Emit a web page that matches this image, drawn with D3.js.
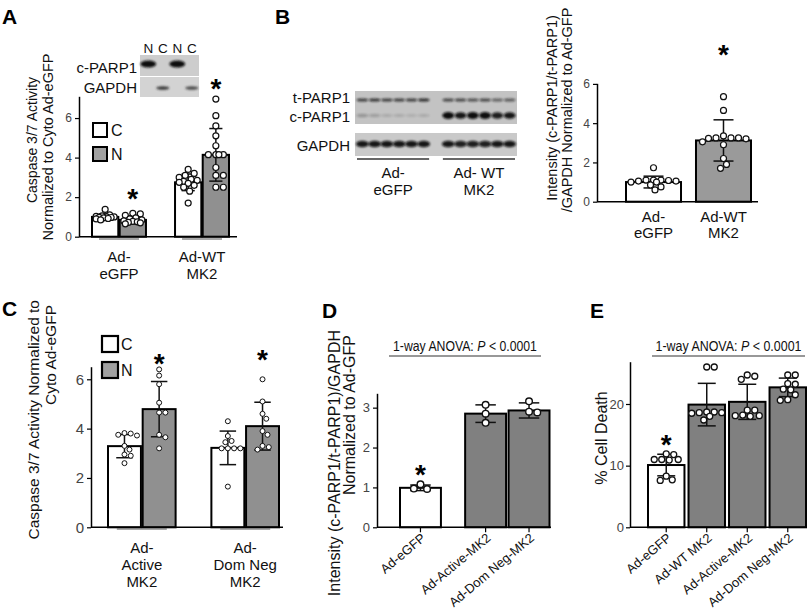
<!DOCTYPE html>
<html><head><meta charset="utf-8">
<script src="https://cdn.jsdelivr.net/npm/d3@7"></script>
<style>body{margin:0;background:#fff}svg{display:block}</style>
</head><body><svg id="fig" width="812" height="615"></svg>
<script>
// ================= DATA =================
// Panel A – caspase 3/7, cytosolic (C) vs nuclear (N)
const groupsA = ["Ad-eGFP", "Ad-WT MK2"];
const groupLabelsA = [["Ad-", "eGFP"], ["Ad-WT", "MK2"]];
const fractions = ["C", "N"];
const meansA_C = [1.0, 2.75];
const meansA_N = [0.85, 4.14];
const sdA_C = [0.15, 0.42];
const sdA_N = [0.2, 1.33];
const ptsA_eGFP_C = [1.38, 1.1, 1.05, 1.03, 1.0, 1.0, 0.98, 0.97, 0.95, 0.92, 0.9, 0.85];
const ptsA_eGFP_N = [1.18, 1.15, 1.08, 0.95, 0.9, 0.85, 0.8, 0.78, 0.75, 0.72, 0.7, 0.65];
const ptsA_WT_C = [3.4, 3.2, 3.1, 3.0, 2.9, 2.85, 2.8, 2.75, 2.7, 2.6, 2.5, 2.3, 1.7];
const ptsA_WT_N = [6.96, 6.12, 5.6, 5.1, 4.6, 4.15, 4.15, 4.15, 4.15, 3.5, 3.1, 3.1, 2.5, 2.5];
const ticksA = [0, 2, 4, 6];
const starsA = [["Ad-eGFP", "N", 2.25], ["Ad-WT MK2", "N", 7.82]];
const insetLanesA = ["N", "C", "N ", "C "];
const insetCParpA = [1, 0, 1, 0];
const insetGapdhA = [0, 0.85, 0, 0.75];

// Panel B – western blot + quantification
const lanesB = ["e1", "e2", "e3", "e4", "e5", "e6", "gap", "w1", "w2", "w3", "w4", "w5", "w6"];
const tParpB = [0.75, 0.8, 0.75, 0.75, 0.75, 0.85, 0, 0.7, 0.7, 0.65, 0.7, 0.55, 0.6];
const cParpB = [0.25, 0.2, 0.15, 0.15, 0.12, 0.15, 0, 1, 0.95, 1, 1, 0.9, 0.95];
const gapdhB = [0.95, 0.95, 0.95, 0.95, 0.95, 0.95, 0, 0.95, 0.9, 0.9, 0.9, 0.95, 0.95];
const blotGroupsB = [["Ad-", "eGFP"], ["Ad- WT", "MK2"]];
const categoriesB = ["Ad-eGFP", "Ad-WT MK2"];
const groupLabelsB = [["Ad-", "eGFP"], ["Ad-WT", "MK2"]];
const meansB = [1.0, 3.12];
const sdB = [0.3, 1.05];
const ptsB = [
  [1.73, 1.1, 1.1, 1.1, 1.08, 1.05, 1.05, 1.0, 1.0, 0.85, 0.75, 0.6],
  [5.35, 4.65, 3.35, 3.25, 3.25, 3.25, 3.22, 3.2, 3.05, 2.9, 2.2, 1.9, 1.7]
];
const ticksB = [0, 2, 4, 6];
const starsB = [["Ad-WT MK2", 7.83]];

// Panel C – caspase 3/7 fractions, active / dominant-negative MK2
const groupsC = ["Ad-Active MK2", "Ad-Dom Neg MK2"];
const groupLabelsC = [["Ad-", "Active", "MK2"], ["Ad-", "Dom Neg", "MK2"]];
const meansC_C = [3.29, 3.22];
const meansC_N = [4.79, 4.1];
const sdC_C = [0.47, 0.68];
const sdC_N = [1.12, 0.97];
const ptsC_Active_C = [3.82, 3.8, 3.75, 3.72, 3.3, 3.15, 2.95, 2.9, 2.6];
const ptsC_Active_N = [6.4, 6.15, 5.8, 5.05, 4.65, 4.65, 3.75, 3.65, 3.2];
const ptsC_DomNeg_C = [4.3, 3.7, 3.5, 3.45, 3.2, 3.2, 3.2, 3.2, 1.65];
const ptsC_DomNeg_N = [6.0, 5.1, 4.6, 4.4, 3.9, 3.75, 3.3, 3.25, 3.15];
const ticksC = [0, 2, 4, 6];
const starsC = [["Ad-Active MK2", "N", 6.9], ["Ad-Dom Neg MK2", "N", 7.07]];

// Panel D – cleaved PARP1
const categoriesD = ["Ad-eGFP", "Ad-Active-MK2", "Ad-Dom Neg-MK2"];
const meansD = [0.99, 2.85, 2.93];
const sdD = [0.07, 0.22, 0.19];
const ptsD = [[1.08, 0.96, 0.97], [3.07, 2.85, 2.62], [3.16, 2.9, 2.88]];
const ticksD = [0, 1, 2, 3];
const starsD = [["Ad-eGFP", 1.49]];

// Panel E – % cell death
const categoriesE = ["Ad-eGFP", "Ad-WT MK2", "Ad-Active-MK2", "Ad-Dom Neg-MK2"];
const meansE = [10.1, 19.9, 20.35, 22.7];
const sdE = [1.75, 3.45, 2.85, 1.5];
const ptsE = [
  [11.9, 11.8, 11.0, 11.0, 11.0, 10.9, 8.3, 7.7, 7.6],
  [26.0, 26.0, 18.7, 18.7, 18.6, 18.6, 18.5, 18.0, 17.4],
  [24.7, 24.5, 24.0, 19.0, 19.0, 18.2, 18.1, 18.1, 18.0],
  [24.7, 24.7, 23.3, 23.2, 22.4, 22.3, 21.5, 20.7, 20.6]
];
const ticksE = [0, 10, 20];
const starsE = [["Ad-eGFP", 14.5]];
const anovaText = ["1-way ANOVA:", "P", "< 0.0001"];

// ================= DRAWING =================
const FONT = '"Liberation Sans", Arial, Helvetica, sans-serif';
const svg = d3.select("#fig");
svg.append("rect").attr("width", 812).attr("height", 615).attr("fill", "#fff");
const defs = svg.append("defs");
defs.append("filter").attr("id", "blur").attr("x", "-50%").attr("y", "-50%").attr("width", "200%").attr("height", "200%")
  .append("feGaussianBlur").attr("stdDeviation", 0.8);

function txt(layer, x, y, s, o = {}) {
  const t = layer.append("text").attr("x", x).attr("y", y)
    .attr("font-family", o.family || FONT).attr("font-size", o.size || 15)
    .attr("fill", o.fill || "#111").attr("text-anchor", o.anchor || "middle").text(s);
  if (o.weight) t.attr("font-weight", o.weight);
  if (o.italic) t.attr("font-style", "italic");
  if (o.rotate != null) t.attr("transform", `rotate(${o.rotate},${x},${y})`);
  return t;
}

function styleAxis(g, o = {}) {
  g.select(".domain").attr("stroke", "#000").attr("stroke-width", 1.5);
  g.selectAll(".tick line").attr("stroke", "#000").attr("stroke-width", 1.2);
  g.selectAll(".tick text").attr("fill", "#444").attr("font-size", o.size || 12).attr("font-family", FONT);
}

function yAxis(layer, y, x, ticks, o = {}) {
  const g = layer.append("g").attr("transform", `translate(${x},0)`)
    .call(d3.axisLeft(y).tickValues(ticks).tickSize(4).tickSizeOuter(0).tickPadding(o.pad || 3).tickFormat(d3.format("d")));
  styleAxis(g, o);
  return g;
}

function xLine(layer, x1, x2, y) {
  layer.append("line").attr("x1", x1).attr("x2", x2).attr("y1", y).attr("y2", y)
    .attr("stroke", "#000").attr("stroke-width", 1.5);
}

// deterministic beeswarm placement in pixel space
function swarm(values, cx, y, r, halfW) {
  const placed = [];
  const step = r * 0.5;
  const maxK = Math.max(0, Math.floor(halfW / step)) * 2;
  values.forEach(v => {
    const py = y(v);
    let found = null, bestX = cx, bestScore = -1;
    for (let k = 0; k <= maxK; k++) {
      const off = (k % 2 === 1 ? 1 : -1) * Math.ceil(k / 2) * step;
      const x = cx + off;
      let minD = Infinity;
      placed.forEach(p => { const d = Math.hypot(p.x - x, p.y - py); if (d < minD) minD = d; });
      if (minD >= 2 * r + 0.6) { found = x; break; }
      if (minD > bestScore) { bestScore = minD; bestX = x; }
    }
    placed.push({ x: found != null ? found : bestX, y: py, v });
  });
  return placed;
}

function drawBar(layer, d, x, w, y, o) {
  const cx = x + w / 2;
  layer.append("rect").attr("x", x).attr("y", y(d.mean)).attr("width", w)
    .attr("height", y(0) - y(d.mean)).attr("fill", d.fill)
    .attr("stroke", "#000").attr("stroke-width", o.sw || 2);
  const cap = Math.min(o.cap || 18, w * 0.5);
  const top = y(d.mean + d.sd), bot = y(d.mean - d.sd);
  const eg = layer.append("g").attr("stroke", "#111").attr("stroke-width", 1.5);
  eg.append("line").attr("x1", cx).attr("x2", cx).attr("y1", top).attr("y2", bot);
  [top, bot].forEach(yy => eg.append("line").attr("x1", cx - cap / 2).attr("x2", cx + cap / 2).attr("y1", yy).attr("y2", yy));
  const r = o.r || 3;
  swarm(d.pts, cx, y, r, w / 2 - r).forEach(p => {
    layer.append("circle").attr("cx", p.x).attr("cy", p.y).attr("r", r)
      .attr("fill", "#fff").attr("stroke", "#111").attr("stroke-width", o.pw || 1.2);
  });
}

function star(layer, cx, cy, size = 28) {
  txt(layer, cx, cy + size * 0.58, "*", { size, weight: "bold", fill: "#000" });
}

function panelLetter(x, y, s) { txt(svg, x, y, s, { size: 21, weight: "bold", anchor: "start", fill: "#000" }); }

const GRAY_A = "#909090", GRAY_D = "#808080", GRAY_B = "#9a9a9a";

// ---------- Panel A ----------
{
  const L = svg.append("g");
  panelLetter(2, 24, "A");
  const y = d3.scaleLinear().domain([0, 7.1]).range([236.7, 96.3]);
  const x0 = d3.scaleBand().domain(groupsA).range([92, 229]).paddingInner(0.35);
  const x1 = d3.scaleBand().domain(fractions).range([0, x0.bandwidth()]).paddingInner(0.05);
  const ptsC = [ptsA_eGFP_C, ptsA_WT_C], ptsN = [ptsA_eGFP_N, ptsA_WT_N];
  const data = groupsA.flatMap((g, i) => [
    { g, f: "C", mean: meansA_C[i], sd: sdA_C[i], pts: ptsC[i], fill: "#fff" },
    { g, f: "N", mean: meansA_N[i], sd: sdA_N[i], pts: ptsN[i], fill: GRAY_A }]);
  data.forEach(d => drawBar(L, d, x0(d.g) + x1(d.f), x1.bandwidth(), y, { r: 3, cap: 16 }));
  yAxis(L, y, 79, ticksA);
  xLine(L, 79, 237, y(0));
  starsA.forEach(([g, f, v]) => star(L, x0(g) + x1(f) + x1.bandwidth() / 2, y(v)));
  groupsA.forEach((g, i) => {
    const cx = x0(g) + x0.bandwidth() / 2;
    L.append("line").attr("x1", cx - 20).attr("x2", cx + 20).attr("y1", 239).attr("y2", 239).attr("stroke", "#555").attr("stroke-width", 1.2);
    groupLabelsA[i].forEach((s, j) => txt(L, cx, 262 + j * 17, s, { size: 15 }));
  });
  // legend
  fractions.forEach((f, i) => {
    L.append("rect").attr("x", 93).attr("y", 123 + i * 24).attr("width", 14).attr("height", 14)
      .attr("fill", f === "C" ? "#fff" : "#a0a0a0").attr("stroke", "#000").attr("stroke-width", 2);
    txt(L, 111, 136 + i * 24, f, { size: 16, anchor: "start" });
  });
  txt(L, 37, 140, "Caspase 3/7 Activity", { size: 14, rotate: -90 });
  txt(L, 53, 147, "Normalized to Cyto Ad-eGFP", { size: 14.5, rotate: -90 });
  // inset blot
  const lx = d3.scaleBand().domain(insetLanesA).range([141, 199]);
  L.append("rect").attr("x", 140).attr("y", 55).attr("width", 59).attr("height", 21).attr("fill", "#cdcdcd");
  L.append("rect").attr("x", 140).attr("y", 77).attr("width", 59).attr("height", 20).attr("fill", "#d3d3d3");
  L.append("line").attr("x1", 140).attr("x2", 199).attr("y1", 76.5).attr("y2", 76.5).attr("stroke", "#fff").attr("stroke-width", 1.2);
  insetLanesA.forEach((ln, i) => {
    const cx = lx(ln) + lx.bandwidth() / 2;
    txt(L, cx, 53, ln.trim(), { size: 13.5 });
    if (insetCParpA[i] > 0) L.append("ellipse").attr("cx", cx).attr("cy", 64).attr("rx", 8).attr("ry", 3.5)
      .attr("fill", "#111").attr("opacity", insetCParpA[i]).attr("filter", "url(#blur)");
    if (insetGapdhA[i] > 0) L.append("ellipse").attr("cx", cx).attr("cy", 88).attr("rx", 6.5).attr("ry", 1.8)
      .attr("fill", "#222").attr("opacity", insetGapdhA[i]).attr("filter", "url(#blur)");
  });
  txt(L, 137, 73, "c-PARP1", { size: 15, anchor: "end" });
  txt(L, 137, 93, "GAPDH", { size: 15, anchor: "end" });
}

// ---------- Panel B ----------
{
  const L = svg.append("g");
  panelLetter(275, 24, "B");
  // blot
  const lx = d3.scaleBand().domain(lanesB).range([357, 515]).paddingInner(0.12);
  L.append("rect").attr("x", 355).attr("y", 91).attr("width", 162).attr("height", 33).attr("fill", "#c3c3c3");
  L.append("rect").attr("x", 355).attr("y", 133).attr("width", 162).attr("height", 23).attr("fill", "#c9c9c9");
  lanesB.forEach((ln, i) => {
    const cx = lx(ln) + lx.bandwidth() / 2, rx = lx.bandwidth() / 2 + 0.5;
    if (tParpB[i] > 0) L.append("ellipse").attr("cx", cx).attr("cy", 100).attr("rx", rx).attr("ry", 1.6)
      .attr("fill", "#111").attr("opacity", tParpB[i]).attr("filter", "url(#blur)");
    if (cParpB[i] > 0) L.append("ellipse").attr("cx", cx).attr("cy", 115.5).attr("rx", rx).attr("ry", 1.2 + 2.2 * cParpB[i])
      .attr("fill", "#111").attr("opacity", cParpB[i]).attr("filter", "url(#blur)");
    if (gapdhB[i] > 0) L.append("ellipse").attr("cx", cx).attr("cy", 144).attr("rx", rx + 0.5).attr("ry", 3.2)
      .attr("fill", "#0a0a0a").attr("opacity", gapdhB[i]).attr("filter", "url(#blur)");
  });
  txt(L, 350, 103, "t-PARP1", { size: 15, anchor: "end" });
  txt(L, 350, 122, "c-PARP1", { size: 15, anchor: "end" });
  txt(L, 350, 151, "GAPDH", { size: 15, anchor: "end" });
  const laneGroups = [lanesB.slice(0, 6), lanesB.slice(7)];
  laneGroups.forEach((lg, i) => {
    const a = lx(lg[0]), b = lx(lg[lg.length - 1]) + lx.bandwidth();
    L.append("line").attr("x1", a).attr("x2", b).attr("y1", 159).attr("y2", 159).attr("stroke", "#333").attr("stroke-width", 1.3);
    blotGroupsB[i].forEach((s, j) => txt(L, (a + b) / 2, 178 + j * 17, s, { size: 15 }));
  });
  // chart
  const y = d3.scaleLinear().domain([0, 6.03]).range([201.7, 83.3]);
  const x = d3.scaleBand().domain(categoriesB).range([626, 751]).paddingInner(0.214);
  categoriesB.forEach((c, i) => drawBar(L, { mean: meansB[i], sd: sdB[i], pts: ptsB[i], fill: i ? GRAY_B : "#fff" },
    x(c), x.bandwidth(), y, { r: 3, cap: 20 }));
  yAxis(L, y, 597, ticksB);
  xLine(L, 597, 758, y(0));
  starsB.forEach(([c, v]) => star(L, x(c) + x.bandwidth() / 2, y(v)));
  categoriesB.forEach((c, i) => groupLabelsB[i].forEach((s, j) => txt(L, x(c) + x.bandwidth() / 2, 222 + j * 16, s, { size: 15 })));
  txt(L, 557, 108, "Intensity (c-PARP1/t-PARP1)", { size: 14.5, rotate: -90 });
  txt(L, 572, 110, "/GAPDH Normalized to Ad-GFP", { size: 14.5, rotate: -90 });
}

// ---------- Panel C ----------
{
  const L = svg.append("g");
  panelLetter(2, 316, "C");
  const y = d3.scaleLinear().domain([0, 6.51]).range([527.3, 366.7]);
  const x0 = d3.scaleBand().domain(groupsC).range([108, 279]).paddingInner(0.346);
  const x1 = d3.scaleBand().domain(fractions).range([0, x0.bandwidth()]).paddingInner(0.05);
  const ptsCc = [ptsC_Active_C, ptsC_DomNeg_C], ptsCn = [ptsC_Active_N, ptsC_DomNeg_N];
  const data = groupsC.flatMap((g, i) => [
    { g, f: "C", mean: meansC_C[i], sd: sdC_C[i], pts: ptsCc[i], fill: "#fff" },
    { g, f: "N", mean: meansC_N[i], sd: sdC_N[i], pts: ptsCn[i], fill: GRAY_A }]);
  data.forEach(d => drawBar(L, d, x0(d.g) + x1(d.f), x1.bandwidth(), y, { r: 2.5, cap: 17, pw: 1 }));
  yAxis(L, y, 91, ticksC, { size: 15 });
  xLine(L, 91, 283, y(0));
  starsC.forEach(([g, f, v]) => star(L, x0(g) + x1(f) + x1.bandwidth() / 2, y(v)));
  groupsC.forEach((g, i) => {
    const cx = x0(g) + x0.bandwidth() / 2;
    L.append("line").attr("x1", cx - 25).attr("x2", cx + 25).attr("y1", 529).attr("y2", 529).attr("stroke", "#555").attr("stroke-width", 1.2);
    groupLabelsC[i].forEach((s, j) => txt(L, cx, 553 + j * 16.8, s, { size: 15 }));
  });
  fractions.forEach((f, i) => {
    L.append("rect").attr("x", 102).attr("y", 336 + i * 26).attr("width", 16).attr("height", 16)
      .attr("fill", f === "C" ? "#fff" : "#a0a0a0").attr("stroke", "#000").attr("stroke-width", 2.2);
    txt(L, 121, 350 + i * 26, f, { size: 16, anchor: "start" });
  });
  txt(L, 39, 300, "Caspase 3/7 Activity Normalized to", { size: 15.5, anchor: "end", rotate: -90 });
  txt(L, 56, 305, "Cyto Ad-eGFP", { size: 15.5, anchor: "end", rotate: -90 });
}

// condensed "1-way ANOVA: P < 0.0001" line, three separate words laid out side by side
function anova(layer, x1, x2, targetW) {
  layer.append("line").attr("x1", x1).attr("x2", x2).attr("y1", 356).attr("y2", 356).attr("stroke", "#333").attr("stroke-width", 1.2);
  const g = layer.append("g");
  const fs = 14.5, gap = fs * 0.278;
  const parts = anovaText.map((s, i) => txt(g, 0, 0, s, { size: fs, anchor: "start", italic: i === 1 }));
  const widths = parts.map(p => p.node().getComputedTextLength());
  const total = d3.sum(widths) + gap * (parts.length - 1);
  let cur = 0;
  parts.forEach((p, i) => { p.attr("x", cur); cur += widths[i] + gap; });
  const k = targetW / total;
  g.attr("transform", `translate(${(x1 + x2) / 2 - targetW / 2},351) scale(${k},1)`);
}

function rotatedLabels(layer, cats, xc, y0) {
  cats.forEach(c => txt(layer, xc(c) + 6, y0 + 12, c, { size: 13, anchor: "end", rotate: -40 }));
}

// ---------- Panel D ----------
{
  const L = svg.append("g");
  panelLetter(322, 318, "D");
  const y = d3.scaleLinear().domain([0, 3.36]).range([527.3, 393.3]);
  const slot = d3.scaleLinear().domain([0, 3.5]).range([399, 551]);
  const slotOf = c => { const i = categoriesD.indexOf(c); return i + (i > 0 ? 0.5 : 0); };
  const w = slot(1) - slot(0) - 2.5;
  const xc = c => slot(slotOf(c)) + 1 + w / 2;
  categoriesD.forEach((c, i) => drawBar(L, { mean: meansD[i], sd: sdD[i], pts: ptsD[i], fill: i ? GRAY_D : "#fff" },
    slot(slotOf(c)) + 1, w, y, { r: 3.3, cap: 22, pw: 1.4 }));
  yAxis(L, y, 377, ticksD, { size: 13 });
  xLine(L, 377, 551, y(0));
  categoriesD.forEach(c => L.append("line").attr("x1", xc(c)).attr("x2", xc(c)).attr("y1", y(0)).attr("y2", y(0) + 5).attr("stroke", "#000").attr("stroke-width", 1.2));
  starsD.forEach(([c, v]) => star(L, xc(c), y(v)));
  rotatedLabels(L, categoriesD, xc, y(0));
  anova(L, slot(0) - 10, slot(3.5) - 10, 144);
  txt(L, 340, 330, "Intensity (c-PARP1/t-PARP1)/GAPDH", { size: 16, anchor: "end", rotate: -90 });
  txt(L, 355, 335, "Normalized to Ad-GFP", { size: 16, anchor: "end", rotate: -90 });
}

// ---------- Panel E ----------
{
  const L = svg.append("g");
  panelLetter(590, 318, "E");
  const y = d3.scaleLinear().domain([0, 26.86]).range([527.3, 361.7]);
  const x = d3.scaleBand().domain(categoriesE).range([648, 806]).paddingInner(0.1);
  const xc = c => x(c) + x.bandwidth() / 2;
  categoriesE.forEach((c, i) => drawBar(L, { mean: meansE[i], sd: sdE[i], pts: ptsE[i], fill: i ? GRAY_D : "#fff" },
    x(c), x.bandwidth(), y, { r: 3, cap: 18, pw: 1.3 }));
  yAxis(L, y, 630, ticksE, { size: 13, pad: 2 });
  xLine(L, 630, 807, y(0));
  categoriesE.forEach(c => L.append("line").attr("x1", xc(c)).attr("x2", xc(c)).attr("y1", y(0)).attr("y2", y(0) + 5).attr("stroke", "#000").attr("stroke-width", 1.2));
  starsE.forEach(([c, v]) => star(L, xc(c), y(v)));
  rotatedLabels(L, categoriesE, xc, y(0));
  anova(L, x.range()[0] + 4, x.range()[1] - 1, 146);
  txt(L, 607, 438, "% Cell Death", { size: 16, rotate: -90 });
}
</script></body></html>
